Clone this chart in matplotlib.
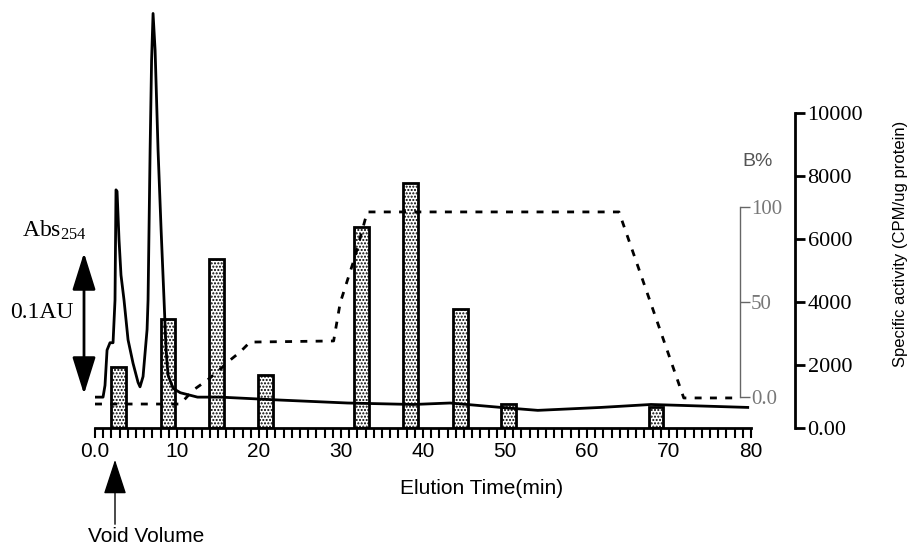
import numpy as np
import matplotlib
matplotlib.use("Agg")
import matplotlib.pyplot as plt
from matplotlib.ticker import MultipleLocator

plt.rcParams['font.family'] = ['Liberation Sans', 'DejaVu Sans']
plt.rcParams['mathtext.default'] = 'regular'

# absorbance trace (AU)
abs_time = [0, 0.98, 1.22, 1.47, 1.83, 2.2, 2.44, 2.56, 2.69, 2.93, 3.17, 3.54, 4.03, 4.64,
            5.25, 5.49, 5.86, 6.35, 6.47, 6.72, 6.9, 7.08, 7.33, 7.69, 8.06, 8.42, 8.67,
            8.91, 9.52, 10.4, 12.5, 15.3, 22.6, 30.8, 38.8, 43.3, 49.5, 54.0, 61.7, 67.8, 79.6]
abs_au = [0.021, 0.021, 0.029, 0.053, 0.058, 0.058, 0.087, 0.162, 0.161, 0.128, 0.104, 0.087,
          0.060, 0.044, 0.031, 0.028, 0.035, 0.067, 0.087, 0.189, 0.250, 0.282, 0.257, 0.189,
          0.135, 0.087, 0.053, 0.036, 0.027, 0.024, 0.021, 0.021, 0.019, 0.017, 0.016, 0.017,
          0.014, 0.012, 0.014, 0.016, 0.014]

# gradient B%
grad_time = [0, 10.4, 12.0, 13.7, 14.9, 16.5, 17.7, 18.9, 29.1, 29.9, 30.9, 31.7, 32.7, 33.2,
             63.9, 71.8, 78.5]
grad_b = [-3.7, -3.7, 3.7, 8.9, 13.2, 19.5, 23.7, 28.9, 29.5, 49.5, 63, 73.7, 89.5, 97.4,
          97.4, -0.5, -0.5]

# specific activity of fractions
frac_time = [2.9, 8.9, 14.8, 20.8, 32.5, 38.5, 44.6, 50.4, 68.4]
activity = [1940, 3460, 5370, 1680, 6380, 7780, 3780, 760, 670]

x_ticks = [0, 10, 20, 30, 40, 50, 60, 70, 80]
x_labels = ['0.0', '10', '20', '30', '40', '50', '60', '70', '80']

W, H = 913, 550
fig = plt.figure(figsize=(W / 100, H / 100), dpi=100)
x0, x1, y0, y1 = 95, 751, 428, 10
ax = fig.add_axes([x0 / W, (H - y0) / H, (x1 - x0) / W, (y0 - y1) / H])
ax.patch.set_alpha(0)

# absorbance trace
axa = ax.twinx()
# B% gradient
axb = ax.twinx()

# bars on the main axes (specific activity)
ax.bar(frac_time, activity, width=1.8, facecolor='white', edgecolor='black',
       hatch='.....', linewidth=2, zorder=2)
ax.set_xlim(0, 80)
ax.set_ylim(0, (y0 - y1) / 31.5 * 1000)
for s in ['left', 'top']:
    ax.spines[s].set_visible(False)
ax.spines['bottom'].set_linewidth(2)
ax.spines['right'].set_position(('axes', (795 - x0) / (x1 - x0)))
ax.spines['right'].set_bounds(0, 10000)
ax.spines['right'].set_linewidth(2)
ax.yaxis.tick_right()
ax.set_yticks([0, 2000, 4000, 6000, 8000, 10000])
ax.set_yticklabels(['0.00', '2000', '4000', '6000', '8000', '10000'],
                   family='Liberation Serif', fontsize=16)
ax.tick_params(axis='y', which='both', left=False, labelleft=False, right=True,
               labelright=True, direction='out', length=7, width=2, pad=2)
ax.set_xticks(x_ticks)
ax.set_xticklabels(x_labels, fontsize=15)
ax.xaxis.set_minor_locator(MultipleLocator(1))
ax.tick_params(axis='x', which='both', direction='out', length=7, width=1.5, pad=3)

axa.plot(abs_time, abs_au, color='black', lw=2)
axa.set_ylim(0, (y0 - y1) / 1470)
axa.set_xlim(0, 80)
for s in axa.spines.values():
    s.set_visible(False)
axa.set_yticks([])

axb.plot(grad_time, grad_b, color='black', lw=2, linestyle=(0, (2.5, 3)))
axb.set_ylim(-(y0 - 397) / 1.9, (397 - y1) / 1.9)
axb.set_xlim(0, 80)
for s in ['left', 'top', 'bottom']:
    axb.spines[s].set_visible(False)
axb.spines['right'].set_position(('axes', (740 - x0) / (x1 - x0)))
axb.spines['right'].set_bounds(0, 100)
axb.spines['right'].set_color('#666666')
axb.spines['right'].set_linewidth(1)
axb.set_yticks([0, 50, 100])
axb.set_yticklabels(['0.0', '50', '100'], family='Liberation Serif', fontsize=15,
                    color='#777777')
axb.tick_params(axis='y', direction='out', length=7, width=1, color='#666666', pad=1)

# labels and annotations
fig.text(482, H - 488, 'Elution Time(min)', transform=None, ha='center', va='center',
         fontsize=15)
fig.text(900, H - 244, 'Specific activity (CPM/ug protein)', transform=None, ha='center',
         va='center', rotation=90, fontsize=12)
fig.text(758, H - 162, 'B%', transform=None, ha='center', va='center', fontsize=14,
         color='#555555')
fig.text(22, H - 230, 'Abs$_{254}$', transform=None, ha='left', va='center',
         family='Liberation Serif', fontsize=17)
fig.text(10, H - 313, '0.1AU', transform=None, ha='left', va='center',
         family='Liberation Serif', fontsize=17)
fig.text(88, H - 537, 'Void Volume', transform=None, ha='left', va='center', fontsize=15)

ax.annotate('', xy=(84, H - 250), xytext=(84, H - 397), xycoords='figure pixels',
            textcoords='figure pixels',
            arrowprops=dict(arrowstyle='<|-|>,head_length=1.15,head_width=0.36',
                            mutation_scale=20, color='black', lw=2))
ax.annotate('', xy=(115, H - 457), xytext=(115, H - 527), xycoords='figure pixels',
            textcoords='figure pixels',
            arrowprops=dict(arrowstyle='-|>,head_length=1.1,head_width=0.36',
                            mutation_scale=20, color='black', lw=1))

fig.savefig('out.png', dpi=100)
